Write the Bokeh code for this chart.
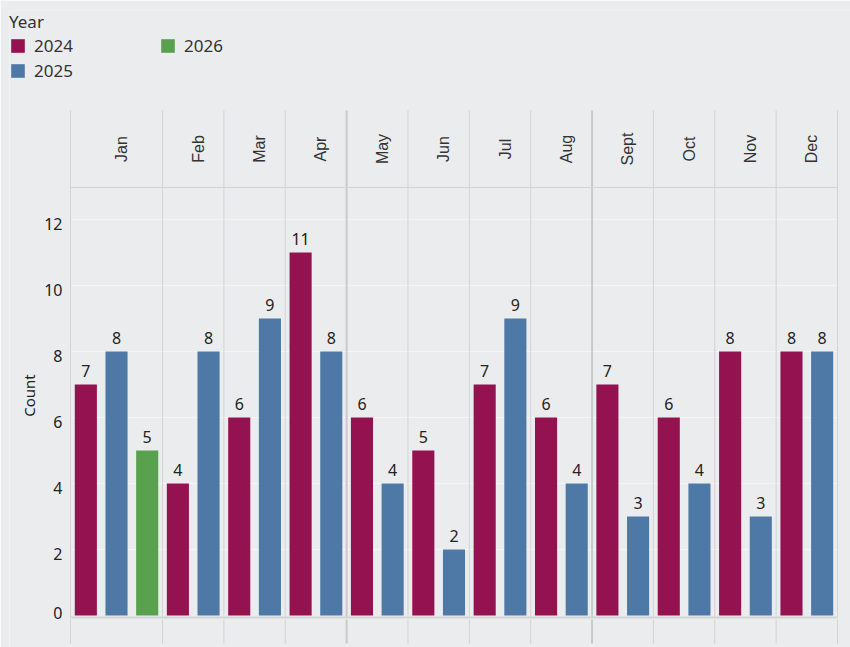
import math
from bokeh.plotting import figure
from bokeh.models import Range1d, Legend, LegendItem, ColumnDataSource
from bokeh.core.properties import value
from bokeh.embed import file_html
from bokeh.resources import INLINE

months = ["Jan", "Feb", "Mar", "Apr", "May", "Jun", "Jul", "Aug", "Sept", "Oct", "Nov", "Dec"]
years = ["2024", "2025", "2026"]
counts_2024 = [7, 4, 6, 11, 6, 5, 7, 6, 7, 6, 8, 8]
counts_2025 = [8, 8, 9, 8, 4, 2, 9, 4, 3, 4, 3, 8]
counts_2026 = [5, None, None, None, None, None, None, None, None, None, None, None]
colors = {"2024": "#93124F", "2025": "#4E79A7", "2026": "#59A14F"}
y_ticks = [0, 2, 4, 6, 8, 10, 12]
y_title = "Count"

BG = "#EBECEE"
SEP = "#D2D3D5"
SEP_THICK = "#C9CACC"
FONT = "Noto Sans"
W, H = 850, 647
TOP, LEFT = 10, 9             # canvas border above / left of frame
PLOT_L, PLOT_R = 70, 837      # pixel extent of the bar area
ZERO_Y, PX_PER_UNIT = 615, 33.0

series = {"2024": counts_2024, "2025": counts_2025, "2026": counts_2026}

LBL_GAP = 13.5 / PX_PER_UNIT

bars = {y: {"x": [], "top": [], "ly": [], "lbl": []} for y in years}
bounds = [0]
slot = 0
for mi, m in enumerate(months):
    for y in years:
        v = series[y][mi]
        if v is None:
            continue
        bars[y]["x"].append(slot + 0.5)
        bars[y]["top"].append(v)
        bars[y]["ly"].append(v + LBL_GAP)
        bars[y]["lbl"].append(str(v))
        slot += 1
    bounds.append(slot)
n_slots = slot

pps = (PLOT_R - PLOT_L) / n_slots


def px_x(px):
    return (px - PLOT_L) / pps


def px_y(py):
    return (ZERO_Y - py) / PX_PER_UNIT


x_lo, x_hi = px_x(LEFT), px_x(W)
y_lo, y_hi = px_y(H), px_y(TOP)
y_top = px_y(110)     # top of header band
y_head = px_y(187)    # header bottom line
y_base = px_y(617)    # base line under bars
y_bot = px_y(643)     # bottom of lower band

p = figure(width=W, height=H, x_range=Range1d(x_lo, x_hi), y_range=Range1d(y_lo, y_hi),
           output_backend="svg", toolbar_location=None, x_axis_location=None, y_axis_location=None,
           min_border_left=LEFT, min_border_right=0, min_border_top=TOP, min_border_bottom=0)
p.background_fill_color = BG
p.border_fill_color = BG
p.outline_line_color = None
p.xgrid.visible = False
p.ygrid.visible = False

# horizontal gridlines
gy = [t for t in y_ticks if t > 0]
p.segment(x0=[0] * len(gy), y0=gy, x1=[n_slots] * len(gy), y1=gy, line_color="#F5F5F6", line_width=1)

# month separators
centers = []
for i, b in enumerate(bounds):
    thick = b in (bounds[4], bounds[8])
    w = 2 if thick else 1
    c = SEP_THICK if thick else SEP
    p.segment(x0=b, y0=y_base, x1=b, y1=y_top, line_color=c, line_width=w)
    p.segment(x0=b, y0=y_bot, x1=b, y1=y_base - 0.06, line_color=c, line_width=w)
for i in range(len(months)):
    centers.append((bounds[i] + bounds[i + 1]) / 2)
p.segment(x0=0, y0=y_head, x1=n_slots, y1=y_head, line_color=SEP, line_width=1)
p.segment(x0=0, y0=y_base, x1=n_slots, y1=y_base, line_color=SEP, line_width=2)

# bars + value labels
renderers = []
for y in years:
    src = ColumnDataSource(bars[y])
    r = p.vbar(x="x", top="top", bottom=0, width=0.72, source=src, fill_color=colors[y], line_color=None)
    renderers.append(r)
    p.text(x="x", y="ly", text="lbl", source=src, text_align="center", text_baseline="middle",
           text_font=value(FONT), text_font_size="16px", text_color="#222222")

# header month labels
hsrc = ColumnDataSource(dict(x=centers, y=[(y_head + y_top) / 2] * len(months), t=months))
p.text(x="x", y="y", text="t", source=hsrc, angle=math.pi / 2, text_align="center",
       text_baseline="middle", x_offset=5, text_font=value("Liberation Sans"), text_font_size="16px",
       text_color="#333333")

# y tick labels (slightly below their gridline, zero nudged up as in the source)
tick_y = [t + (3 / PX_PER_UNIT if t == 0 else -4 / PX_PER_UNIT) for t in y_ticks]
tsrc = ColumnDataSource(dict(x=[px_x(PLOT_L - 8)] * len(y_ticks), y=tick_y, t=[str(t) for t in y_ticks]))
p.text(x="x", y="y", text="t", source=tsrc, text_align="right", text_baseline="middle",
       text_font=value(FONT), text_font_size="16px", text_color="#222222")

# y axis title
p.text(x=[px_x(28.5)], y=[px_y(395)], text=[y_title], angle=math.pi / 2, text_align="center",
       text_baseline="middle", text_font=value(FONT), text_font_size="15px", text_color="#222222")

legend = Legend(items=[LegendItem(label=y, renderers=[r]) for y, r in zip(years, renderers)],
                title="Year", location="top_left", orientation="vertical", nrows=2,
                glyph_width=17, glyph_height=17, label_height=17, label_width=123,
                label_standoff=8, spacing=2, padding=10, margin=0,
                background_fill_alpha=0, border_line_color=None,
                label_text_font=FONT, label_text_font_size="17px", label_text_color="#333333",
                title_text_font=FONT, title_text_font_size="17px", title_text_color="#333333",
                title_text_font_style="normal", title_standoff=1)
p.add_layout(legend, "center")

html = file_html(p, INLINE)
html = html.replace("<body>", '<body style="background:#EBECEE">', 1)
open("out.html", "w").write(html)
